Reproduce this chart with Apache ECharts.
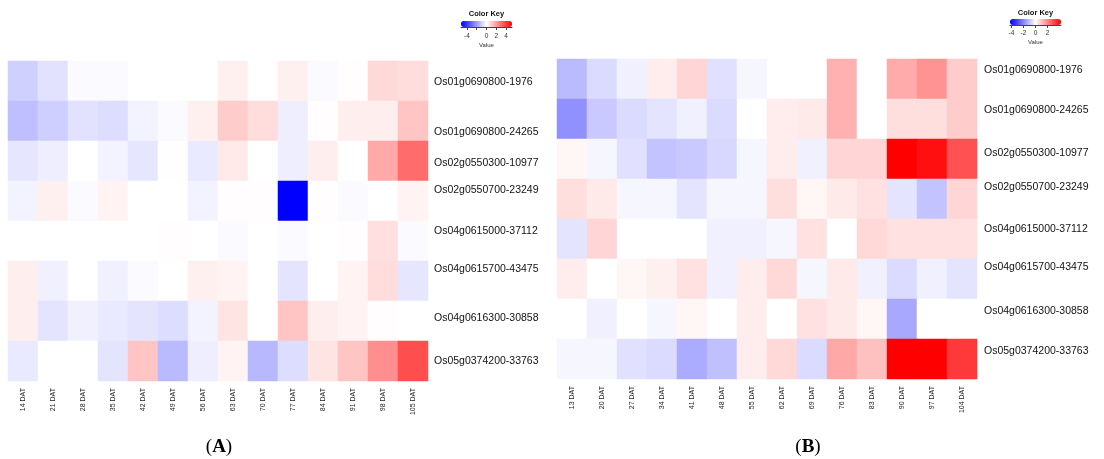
<!DOCTYPE html>
<html><head><meta charset="utf-8">
<script src="https://cdn.jsdelivr.net/npm/echarts@6/dist/echarts.min.js"></script>
<style>html,body{margin:0;padding:0;background:#fff}#c{width:1104px;height:459px}</style>
</head><body><div id="c"></div>
<script>
// ---------- data ----------
const genes = ['Os01g0690800-1976','Os01g0690800-24265','Os02g0550300-10977','Os02g0550700-23249',
  'Os04g0615000-37112','Os04g0615700-43475','Os04g0616300-30858','Os05g0374200-33763'];
const daysA = ['14 DAT','21 DAT','28 DAT','35 DAT','42 DAT','49 DAT','56 DAT','63 DAT','70 DAT','77 DAT','84 DAT','91 DAT','98 DAT','105 DAT'];
const daysB = ['13 DAT','20 DAT','27 DAT','34 DAT','41 DAT','48 DAT','55 DAT','62 DAT','69 DAT','76 DAT','83 DAT','90 DAT','97 DAT','104 DAT'];
const valuesA = [
  [-0.95,-0.6,-0.1,-0.1,0,0,0,0.3,0,0.3,-0.1,0.05,0.8,0.7],
  [-1.3,-1.0,-0.6,-0.7,-0.25,-0.1,0.3,1.05,0.7,-0.35,0.05,0.35,0.35,1.2],
  [-0.5,-0.35,0,-0.25,-0.5,0.02,-0.45,0.45,0,-0.35,0.35,0,1.75,3.0],
  [-0.25,0.3,-0.1,0.25,0,0,-0.25,0.05,0.05,-5.2,0.05,-0.1,0,0.25],
  [0,0,0,0,0,0.05,0,-0.1,0,-0.1,0,0.05,0.65,-0.1],
  [0.35,-0.3,0,-0.3,-0.1,0,0.3,0.25,0,-0.55,0,0.25,0.7,-0.5],
  [0.35,-0.55,-0.3,-0.45,-0.55,-0.7,-0.25,0.55,0,1.2,0.35,0.25,0.05,0],
  [-0.45,0,0,-0.55,1.2,-1.4,-0.35,0.25,-1.45,-0.7,0.55,1.2,2.3,3.6]
];
const valuesB = [
  [-1.15,-0.6,-0.25,0.3,0.7,-0.5,-0.15,0,0,1.3,0,1.4,1.8,0.85],
  [-1.85,-0.9,-0.6,-0.45,-0.25,-0.6,0,0.3,0.35,1.3,0,0.55,0.55,0.85],
  [0.15,-0.15,-0.5,-1.0,-0.9,-0.65,-0.15,0.3,-0.25,0.7,0.7,4.25,4.0,2.9],
  [0.55,0.35,-0.15,-0.15,-0.45,-0.15,-0.15,0.55,0.15,0.35,0.5,-0.45,-1.0,0.7],
  [-0.45,0.7,0,0,0,-0.25,-0.25,-0.15,0.5,0,0.65,0.5,0.5,0.5],
  [0.3,0,0.15,0.25,0.5,-0.25,0.3,0.65,-0.15,0.35,-0.25,-0.6,-0.25,-0.45],
  [0,-0.25,0,-0.15,0.15,0,0.3,0,0.5,0.35,0.15,-1.45,0,0],
  [-0.15,-0.15,-0.5,-0.6,-1.4,-1.05,0.3,0.65,-0.6,1.45,1.05,4.25,4.25,3.3]
];
const keyRangeA = 5.2;
const keyRangeB = 4.25;
const keyTicksA = [-4,-2,0,2,4];
const keyLabelsA = [-4,0,2,4];
const keyTicksB = [-4,-2,0,2];
const keyLabelsB = [-4,-2,0,2];

// ---------- styling ----------
const labelShiftA = [1,11,2,-11,-10,-12,-3,0];
const labelShiftB = [-9,-9,-6,-12,-10,-12,-8,-8];
const FONT = '"Liberation Sans", Arial, sans-serif';
const keyColors = ['#0000ff','#ffffff','#ff0000'];

function cells(values){
  const out = [];
  values.forEach((row,r)=>row.forEach((v,c)=>out.push([c,r,v])));
  return out;
}
function richFor(shifts){
  const rich = { t: { fontSize: 10.5, lineHeight: 12, color: '#111', fontFamily: FONT } };
  shifts.forEach(s=>{ const n=Math.abs(s); if(n) rich['g'+n] = { fontSize: 1, lineHeight: 2*n }; });
  return rich;
}
function shiftFormatter(shifts){
  return function(value, index){
    const s = shifts[index] || 0;
    if (!s) return '{t|' + value + '}';
    const g = '{g' + Math.abs(s) + '| }';
    return s > 0 ? g + '\n{t|' + value + '}' : '{t|' + value + '}\n' + g;
  };
}
function heatX(gi, days){
  return { type:'category', gridIndex: gi, data: days, position:'bottom',
    axisLine:{show:false}, axisTick:{show:false}, splitLine:{show:false},
    axisLabel:{ rotate: 90, fontSize: 7, margin: 7, interval: 0, color:'#222', fontFamily: FONT } };
}
function heatY(gi, shifts, margin){
  return { type:'category', gridIndex: gi, data: genes, inverse: true, position:'right',
    axisLine:{show:false}, axisTick:{show:false}, splitLine:{show:false},
    axisLabel:{ margin: margin, interval: 0, formatter: shiftFormatter(shifts), rich: richFor(shifts) } };
}
function keyX(gi, range, ticks, labels, margin, gap){
  return { type:'value', gridIndex: gi, min: -range, max: range,
    axisLine:{show:true, lineStyle:{color:'#444', width:1}},
    axisTick:{show:true, length:3, customValues: ticks, lineStyle:{color:'#444'}},
    axisLabel:{ customValues: labels, fontSize: 6.5, margin: margin, color:'#333', fontFamily: FONT },
    splitLine:{show:false},
    name:'Value', nameLocation:'middle', nameGap: gap,
    nameTextStyle:{ fontSize: 6, color:'#333', fontFamily: FONT } };
}
function keyY(gi){ return { type:'category', gridIndex: gi, show:false, data:[''] }; }

const chart = echarts.init(document.getElementById('c'), null, {renderer:'canvas'});
chart.setOption({
  animation: false,
  backgroundColor: '#ffffff',
  grid: [
    { left: 8, top: 61, width: 420, height: 320 },
    { left: 557, top: 59, width: 420, height: 320 },
    { left: 461, top: 21, width: 51, height: 6 },
    { left: 1010, top: 19, width: 51, height: 6 }
  ],
  xAxis: [ heatX(0, daysA), heatX(1, daysB),
    keyX(2, keyRangeA, keyTicksA, keyLabelsA, 6, 15),
    keyX(3, keyRangeB, keyTicksB, keyLabelsB, 5, 14) ],
  yAxis: [ heatY(0, labelShiftA, 6), heatY(1, labelShiftB, 7), keyY(2), keyY(3) ],
  visualMap: [
    { type:'continuous', seriesIndex: 0, min: -keyRangeA, max: keyRangeA, calculable:false, hoverLink:false,
      orient:'horizontal', left: 461, top: 21, itemWidth: 6, itemHeight: 51, padding: 0,
      inRange:{ color: keyColors }, text: null, textStyle:{fontSize:1} },
    { type:'continuous', seriesIndex: 1, min: -keyRangeB, max: keyRangeB, calculable:false, hoverLink:false,
      orient:'horizontal', left: 1010, top: 19, itemWidth: 6, itemHeight: 51, padding: 0,
      inRange:{ color: keyColors }, text: null, textStyle:{fontSize:1} }
  ],
  series: [
    { type:'heatmap', xAxisIndex:0, yAxisIndex:0, data: cells(valuesA), itemStyle:{borderWidth:0}, emphasis:{disabled:true} },
    { type:'heatmap', xAxisIndex:1, yAxisIndex:1, data: cells(valuesB), itemStyle:{borderWidth:0}, emphasis:{disabled:true} }
  ],
  graphic: [
    { type:'text', x: 486.5, y: 14, style:{ text:'Color Key', font:'bold 7.5px ' + FONT, fill:'#111', align:'center', verticalAlign:'middle' } },
    { type:'text', x: 1035.5, y: 13, style:{ text:'Color Key', font:'bold 7.5px ' + FONT, fill:'#111', align:'center', verticalAlign:'middle' } },
    { type:'text', x: 219, y: 447, style:{ text:'{p|(}{b|A}{p|)}', align:'center', verticalAlign:'middle',
        rich:{ p:{ fontSize: 19, fontFamily:'"Liberation Serif", serif', fill:'#000' }, b:{ fontSize: 19, fontWeight:'bold', fontFamily:'"Liberation Serif", serif', fill:'#000' } } } },
    { type:'text', x: 808, y: 447, style:{ text:'{p|(}{b|B}{p|)}', align:'center', verticalAlign:'middle',
        rich:{ p:{ fontSize: 19, fontFamily:'"Liberation Serif", serif', fill:'#000' }, b:{ fontSize: 19, fontWeight:'bold', fontFamily:'"Liberation Serif", serif', fill:'#000' } } } }
  ]
});
</script>
</body></html>
